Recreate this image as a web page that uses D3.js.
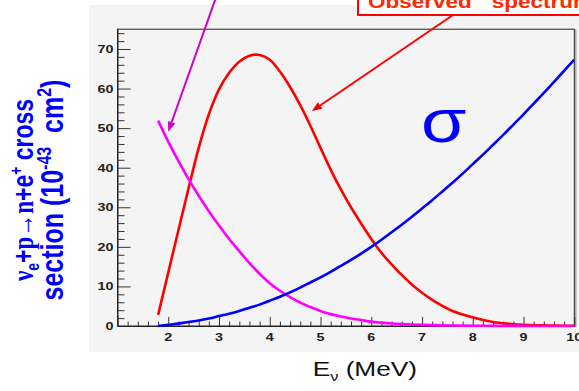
<!DOCTYPE html>
<html>
<head>
<meta charset="utf-8">
<script src="https://cdn.jsdelivr.net/npm/d3@7"></script>
<style>
  body { margin: 0; background: #fff; }
  svg { display: block; }
  text { white-space: pre; }
</style>
</head>
<body>
<svg id="chart" width="579" height="391"></svg>
<script>
// Neutrino energy grid (MeV)
const energy = [1.8, 2.0, 2.2, 2.4, 2.6, 2.8, 3.0, 3.2, 3.4, 3.6, 3.8, 4.0, 4.2, 4.4,
  4.6, 4.8, 5.0, 5.2, 5.4, 5.6, 5.8, 6.0, 6.2, 6.4, 6.6, 6.8, 7.0, 7.2, 7.4, 7.6,
  7.8, 8.0, 8.2, 8.4, 8.6, 8.8, 9.0, 9.2, 9.4, 9.6, 9.8, 10.0];

// Observed (flux x cross section) spectrum, arbitrary units
const observedSpectrum = [2.8, 13.5, 24.2, 34.8, 45.0, 53.5, 59.8, 64.0, 66.8, 68.3, 68.5,
  67.3, 64.3, 60.4, 55.8, 50.6, 45.0, 39.5, 34.5, 30.0, 25.9, 22.0, 18.5, 15.6, 12.9,
  10.5, 8.4, 6.6, 5.1, 3.8, 2.9, 2.2, 1.5, 1.0, 0.7, 0.45, 0.3, 0.2, 0.15, 0.1, 0.07, 0.05];

// Inverse beta decay cross section (10^-43 cm^2)
const crossSection = [0, 0.3, 0.6, 1.0, 1.4, 1.9, 2.5, 3.1, 3.8, 4.6, 5.4, 6.4, 7.4, 8.5,
  9.7, 11.0, 12.3, 13.7, 15.2, 16.7, 18.3, 20.0, 21.8, 23.7, 25.6, 27.6, 29.7, 31.8,
  34.0, 36.2, 38.5, 40.9, 43.3, 45.8, 48.3, 50.9, 53.5, 56.2, 58.9, 61.7, 64.5, 67.3];

// Reactor antineutrino flux, arbitrary units
const reactorFlux = [51.9, 46.6, 41.7, 37.1, 32.9, 29.0, 25.4, 22.0, 18.9, 15.9, 13.2,
  10.8, 8.9, 7.3, 5.9, 4.8, 3.8, 3.0, 2.4, 1.9, 1.5, 1.1, 0.85, 0.65, 0.5, 0.38, 0.28,
  0.21, 0.16, 0.12, 0.09, 0.07, 0.05, 0.04, 0.03, 0.02, 0.02, 0.01, 0.01, 0.01, 0.01, 0.01];

const xTickLabels = [2, 3, 4, 5, 6, 7, 8, 9, 10];
const yTickLabels = [0, 10, 20, 30, 40, 50, 60, 70];

// Annotation arrows in data units: [tailE, tailV, tipE, tipV]
const fluxArrow = [2.94, 83, 2.0, 49.1];
const spectrumArrow = [7.61, 78.6, 4.83, 54.3];

const SX = 1.25;            // horizontal text stretch
const SANS = "'Liberation Sans', Arial, sans-serif";
const SERIF = "'Liberation Serif', 'Times New Roman', serif";

const svg = d3.select("#chart");

// Pad background
svg.append("rect").attr("x", 89).attr("y", 5).attr("width", 490).attr("height", 347)
  .attr("fill", "#f4f4f4");

const x = d3.scaleLinear().domain([1, 10]).range([117.5, 574.3]);
const y = d3.scaleLinear().domain([0, 75]).range([326, 29.2]);

// Frame
svg.append("rect")
  .attr("x", x(1)).attr("y", y(75))
  .attr("width", x(10) - x(1)).attr("height", y(0) - y(75))
  .attr("fill", "none").attr("stroke", "#222").attr("stroke-width", 1);
svg.append("line").attr("x1", x(10) + 1.5).attr("x2", x(10) + 1.5)
  .attr("y1", y(75)).attr("y2", y(0) + 1)
  .attr("stroke", "#aaa").attr("stroke-width", 1.5);

// Y axis: ticks pointing into the frame
const yAxis = d3.axisRight(y)
  .tickValues(d3.range(0, 75.01, 2))
  .tickSize(0).tickFormat("");
const yg = svg.append("g").attr("transform", `translate(${x(1)},0)`).call(yAxis);
yg.select(".domain").attr("stroke", "#222");
yg.selectAll(".tick line")
  .attr("x2", d => (d % 10 === 0 ? 13 : 7))
  .attr("stroke", "#333");

// X axis: ticks pointing into the frame
const xAxis = d3.axisTop(x)
  .tickValues(d3.range(1, 10.001, 0.2))
  .tickSize(0).tickFormat("");
const xg = svg.append("g").attr("transform", `translate(0,${y(0)})`).call(xAxis);
xg.select(".domain").attr("stroke", "#222");
xg.selectAll(".tick line")
  .attr("y2", d => (Math.abs(d - Math.round(d)) < 1e-6 ? -9 : -4.5))
  .attr("stroke", "#333");

// Tick labels
svg.append("g").selectAll("text").data(yTickLabels).join("text")
  .attr("transform", d => `translate(${x(1) - 4},${y(d) + 4}) scale(${SX},1)`)
  .attr("text-anchor", "end")
  .attr("font-family", SANS).attr("font-weight", "bold").attr("font-size", 11.5)
  .attr("fill", "#222")
  .text(d => d);

svg.append("g").selectAll("text").data(xTickLabels).join("text")
  .attr("transform", d => `translate(${x(d)},${y(0) + 15}) scale(${SX},1)`)
  .attr("text-anchor", "middle")
  .attr("font-family", SANS).attr("font-weight", "bold").attr("font-size", 11.5)
  .attr("fill", "#222")
  .text(d => d);

// Curves
svg.append("clipPath").attr("id", "plotClip")
  .append("rect").attr("x", x(1)).attr("y", y(75))
  .attr("width", x(10) - x(1)).attr("height", y(0) - y(75) + 2);

const line = d3.line()
  .x((d, i) => x(energy[i]))
  .y(d => y(d))
  .curve(d3.curveCatmullRom.alpha(0.5));

const curves = svg.append("g").attr("clip-path", "url(#plotClip)");
[
  { values: observedSpectrum, color: "#ff0000" },
  { values: reactorFlux, color: "#ff00ff" },
  { values: crossSection, color: "#0000ff" }
].forEach(s => {
  curves.append("path").datum(s.values)
    .attr("d", line)
    .attr("fill", "none")
    .attr("stroke", s.color)
    .attr("stroke-width", 2.6)
    .attr("stroke-linejoin", "round");
});

// Sigma label
svg.append("text")
  .attr("transform", `translate(421,142) scale(${SX * 0.95},1)`)
  .attr("font-family", SANS).attr("font-size", 62).attr("fill", "#0000ff")
  .text("σ");

// Label box (extends beyond the top/right edges)
svg.append("rect").attr("x", 358).attr("y", -20).attr("width", 260).attr("height", 35)
  .attr("fill", "#fff").attr("stroke", "#ff0000").attr("stroke-width", 2);
const boxText = svg.append("text")
  .attr("transform", `translate(368,8) scale(${SX},1)`)
  .attr("font-family", SANS).attr("font-weight", "bold").attr("font-size", 18)
  .attr("fill", "#ff2a00");
boxText.append("tspan").text("Observed");
boxText.append("tspan").attr("dx", 16).text("spectrum");

// Arrows
function arrow(a, color, width) {
  const x1 = x(a[0]), y1 = y(a[1]), x2 = x(a[2]), y2 = y(a[3]);
  const ang = Math.atan2(y2 - y1, x2 - x1);
  const L = 10, W = 4;
  const bx = x2 - L * Math.cos(ang), by = y2 - L * Math.sin(ang);
  svg.append("line").attr("x1", x1).attr("y1", y1).attr("x2", bx).attr("y2", by)
    .attr("stroke", color).attr("stroke-width", width);
  const px = -Math.sin(ang) * W, py = Math.cos(ang) * W;
  svg.append("path")
    .attr("d", `M${x2},${y2}L${bx + px},${by + py}L${bx - px},${by - py}Z`)
    .attr("fill", color);
}
arrow(fluxArrow, "#d000c8", 2);
arrow(spectrumArrow, "#ff0000", 2);

// Y axis title (two rotated lines)
const yt1 = svg.append("text")
  .attr("transform", `translate(33,190) scale(${SX},1) rotate(-90)`)
  .attr("text-anchor", "middle")
  .attr("font-family", SANS).attr("font-weight", "bold").attr("font-size", 23)
  .attr("fill", "#0000ff");
yt1.append("tspan").attr("font-family", SERIF).text("ν");
yt1.append("tspan").attr("font-size", 14).attr("dy", 5).text("e");
yt1.append("tspan").attr("dy", -5).text("+");
yt1.append("tspan").attr("font-family", SERIF).text("p→n");
yt1.append("tspan").text("+e");
yt1.append("tspan").attr("font-size", 14).attr("dy", -9).text("+");
yt1.append("tspan").attr("dy", 9).text(" cross");

const yt2 = svg.append("text")
  .attr("transform", `translate(63,190) scale(${SX},1) rotate(-90)`)
  .attr("text-anchor", "middle")
  .attr("font-family", SANS).attr("font-weight", "bold").attr("font-size", 25)
  .attr("fill", "#0000ff");
yt2.append("tspan").text("section (10");
yt2.append("tspan").attr("font-size", 16).attr("dy", -10).text("-43");
yt2.append("tspan").attr("dy", 10).text("  cm");
yt2.append("tspan").attr("font-size", 16).attr("dy", -10).text("2");
yt2.append("tspan").attr("dy", 10).text(")");

// X axis title
const xt = svg.append("text")
  .attr("transform", `translate(312.7,376) scale(${SX},1)`)
  .attr("font-family", SANS).attr("font-size", 21).attr("fill", "#111");
xt.append("tspan").text("E");
xt.append("tspan").attr("font-size", 13).attr("dy", 5).text("ν");
xt.append("tspan").attr("dy", -5).text(" (MeV)");
</script>
</body>
</html>
